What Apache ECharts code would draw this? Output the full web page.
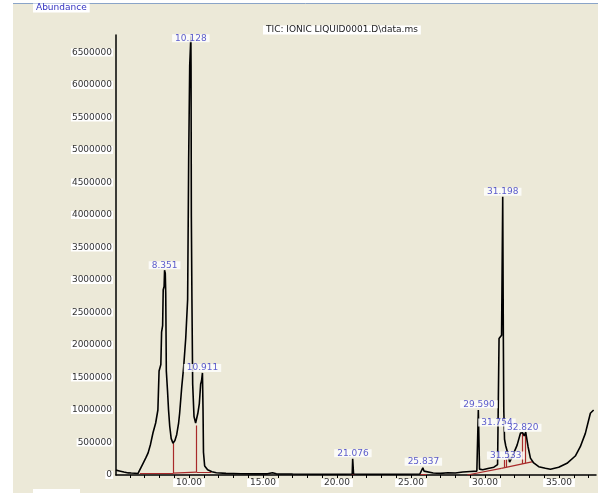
<!DOCTYPE html>
<html>
<head>
<meta charset="utf-8">
<script src="https://cdn.jsdelivr.net/npm/echarts@6/dist/echarts.min.js"></script>
<style>
html,body{margin:0;padding:0;background:#fff;}
#chart{width:598px;height:493px;}
</style>
</head>
<body>
<div id="chart"></div>
<script>
// Retention time (min) and abundance of the TIC trace
const time = [5.07,5.3,5.6,5.9,6.1,6.21,6.35,6.55,6.68,6.90,7.10,7.24,7.40,7.57,7.75,7.90,7.98,8.10,8.15,8.22,8.26,8.32,8.351,8.40,8.43,8.47,8.55,8.62,8.70,8.80,8.92,9.05,9.17,9.30,9.37,9.51,9.64,9.78,9.91,9.98,10.05,10.128,10.14,10.16,10.20,10.25,10.34,10.45,10.50,10.60,10.70,10.79,10.85,10.911,10.95,10.98,11.06,11.26,11.55,11.85,12.5,13.5,14.5,15.3,15.64,15.9,17,18.5,20.5,21.03,21.06,21.076,21.09,21.12,22,24,25.6,25.80,25.837,25.88,26.0,26.5,27,27.5,28,28.5,29.0,29.45,29.55,29.59,29.63,29.85,30.2,30.6,30.85,30.95,31.12,31.198,31.24,31.27,31.32,31.40,31.47,31.533,31.58,31.66,31.754,31.85,31.95,32.17,32.40,32.55,32.65,32.75,32.82,32.91,33.07,33.29,33.63,34.08,34.42,34.98,35.54,36.10,36.44,36.78,37.12,37.34];
const abundance = [75000,62000,45000,32000,30000,50000,28000,22000,25000,180000,270000,340000,470000,650000,800000,1000000,1600000,1700000,2200000,2300000,2850000,2900000,3150000,3100000,2800000,1600000,1300000,1000000,750000,560000,490000,530000,620000,800000,950000,1350000,1660000,2100000,2700000,4850000,6300000,6750000,6300000,4000000,2700000,1400000,900000,800000,770000,950000,1100000,1400000,1450000,1570000,1000000,350000,140000,80000,50000,35000,25000,20000,18000,18000,35000,18000,15000,12000,12000,15000,250000,257000,240000,15000,12000,12000,15000,110000,128000,60000,30000,30000,25000,35000,30000,45000,55000,60000,1000000,1010000,90000,80000,100000,120000,160000,2100000,2150000,4280000,2100000,1000000,550000,450000,440000,470000,300000,200000,240000,220000,340000,460000,645000,650000,600000,660000,650000,435000,260000,185000,128000,103000,88000,118000,180000,292000,435000,640000,950000,1000000];

// Integration baselines and peak dividers: [t1, a1, t2, a2]
const redSegments = [
  [6.68, 20000, 8.92, 26000],
  [8.92, 26000, 8.92, 490000],
  [8.92, 30000, 10.50, 45000],
  [10.50, 45000, 10.50, 760000],
  [10.50, 45000, 11.5, 48000],
  [20.9, 14000, 21.25, 14000],
  [25.6, 16000, 26.05, 16000],
  [28.8, 0, 31.1, 103000],
  [31.1, 103000, 33.24, 205000],
  [31.28, 110000, 31.28, 230000],
  [31.45, 118000, 31.45, 240000],
  [32.53, 170000, 32.53, 645000],
  [32.74, 180000, 32.74, 650000]
];

// Peak labels
const peakNames = ['8.351','10.128','10.911','21.076','25.837','29.590','31.198','31.533','31.754','32.820'];
const peakTimes = [8.351,10.128,10.911,21.076,25.837,29.590,31.198,31.533,31.754,32.820];
const peakHeights = [3150000,6750000,1570000,257000,128000,1010000,4280000,470000,240000,650000];
const labelOffsets = [[0,0],[0,7],[0,0],[0,0],[0,0],[0,0],[0,0],[-2,16],[-14,-32],[-4,0]];

const xTicks = [6,7,8,9,10,11,12,13,14,15,16,17,18,19,20,21,22,23,24,25,26,27,28,29,30,31,32,33,34,35,36,37];
const xLabels = [10,15,20,25,30,35];

const FONT = 'DejaVu Sans';
const chart = echarts.init(document.getElementById('chart'));
const trace = time.map((t, i) => [t, abundance[i]]);
const peaks = peakTimes.map((t, i) => ({
  name: peakNames[i],
  value: [t, peakHeights[i]],
  label: { offset: labelOffsets[i] }
}));

chart.setOption({
  backgroundColor: '#ECE9D8',
  animation: false,
  title: [
    { text: 'Abundance', left: 33, top: 4,
      backgroundColor: '#fff', padding: [0, 3],
      textStyle: { fontFamily: FONT, fontSize: 9, fontWeight: 'normal', color: '#3333c0', lineHeight: 8 } },
    { text: 'TIC: IONIC LIQUID0001.D\\data.ms', left: 263, top: 26,
      backgroundColor: '#fff', padding: [0, 3],
      textStyle: { fontFamily: FONT, fontSize: 9, fontWeight: 'normal', color: '#222', lineHeight: 8 } }
  ],
  graphic: [
    { type: 'rect', shape: { x: 0, y: 0, width: 13, height: 493 }, style: { fill: '#fff' }, silent: true },
    { type: 'rect', shape: { x: 0, y: 0, width: 598, height: 3 }, style: { fill: '#fff' }, silent: true },
    { type: 'line', shape: { x1: 13, y1: 3.5, x2: 598, y2: 3.5 }, style: { stroke: '#8aa4c8', lineWidth: 1 }, silent: true },
    { type: 'rect', shape: { x: 33, y: 489, width: 47, height: 4 }, style: { fill: '#fff' }, silent: true }
  ],
  grid: { left: 116, right: 2, top: 35, bottom: 18, outerBoundsMode: 'none', containLabel: false },
  xAxis: {
    type: 'value', min: 5.07, max: 37.5,
    axisLine: { show: true, onZero: false, lineStyle: { color: '#000', width: 1.5 } },
    axisTick: { show: true, customValues: xTicks, length: 3, lineStyle: { color: '#000', width: 1 } },
    axisLabel: { customValues: xLabels, formatter: v => Number(v).toFixed(2), margin: 4,
      fontFamily: FONT, fontSize: 9, color: '#333', backgroundColor: '#fff', padding: [0, 3], lineHeight: 8 },
    splitLine: { show: false }
  },
  yAxis: {
    type: 'value', min: 0, max: 6770000, interval: 500000,
    axisLine: { show: true, lineStyle: { color: '#000', width: 1.5 } },
    axisTick: { show: false },
    axisLabel: { formatter: v => (v % 500000 === 0 && v <= 6500000) ? String(v) : '', margin: 3,
      fontFamily: FONT, fontSize: 9, color: '#333', backgroundColor: '#fff', padding: [0, 1], lineHeight: 8 },
    splitLine: { show: false }
  },
  series: [
    {
      type: 'lines', coordinateSystem: 'cartesian2d', z: 3,
      lineStyle: { color: '#a82a2a', width: 1.2, opacity: 1 },
      data: redSegments.map(s => ({ coords: [[s[0], s[1]], [s[2], s[3]]] }))
    },
    {
      type: 'line', data: trace, showSymbol: false, z: 4,
      lineStyle: { color: '#000', width: 1.6 }
    },
    {
      type: 'scatter', data: peaks, symbolSize: 0, z: 6,
      label: { show: true, position: 'top', distance: 1, formatter: p => p.name,
        fontFamily: FONT, fontSize: 9, color: '#3333c0', backgroundColor: '#fff',
        padding: [0, 3], lineHeight: 8 }
    }
  ]
});
</script>
</body>
</html>
